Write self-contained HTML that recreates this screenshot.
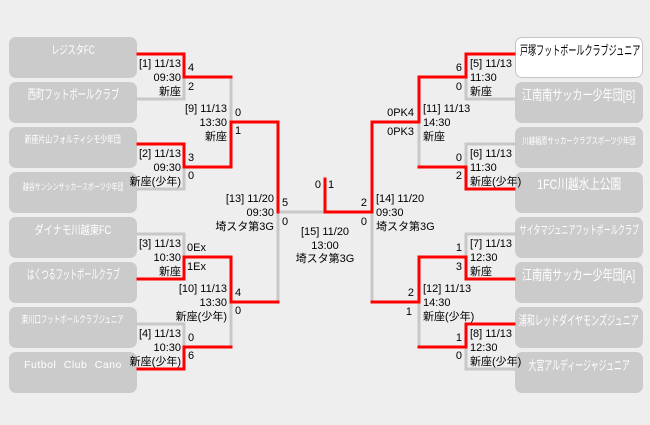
<!DOCTYPE html>
<html><head><meta charset="utf-8">
<style>
html,body{margin:0;padding:0;}
body{width:650px;height:425px;background:#eeeeee;position:relative;overflow:hidden;font-family:"Liberation Sans","Noto Sans CJK JP",sans-serif;}
.box{position:absolute;width:128px;height:41px;background:#cbcbcb;border-radius:7px;}
.nm{position:absolute;width:128px;height:16px;display:flex;justify-content:center;align-items:center;white-space:nowrap;}
.nm span{display:inline-block;color:#fff;line-height:1;white-space:nowrap;}
.t{position:absolute;font-size:11px;line-height:14px;color:#000;white-space:nowrap;}
.r{text-align:right;}
.s{position:absolute;font-size:11px;line-height:12px;color:#000;white-space:nowrap;}
svg{position:absolute;left:0;top:0;}
</style></head><body>

<!-- left boxes -->
<div class="box" style="left:9px;top:37px"></div>
<div class="box" style="left:9px;top:82px"></div>
<div class="box" style="left:9px;top:127px"></div>
<div class="box" style="left:9px;top:172px"></div>
<div class="box" style="left:9px;top:217px"></div>
<div class="box" style="left:9px;top:262px"></div>
<div class="box" style="left:9px;top:307px"></div>
<div class="box" style="left:9px;top:352px"></div>
<!-- right boxes -->
<div class="box" style="left:515px;top:37px;background:#fff;border:1px solid #c4c4c4;width:126px;height:39px;"></div>
<div class="box" style="left:515px;top:82px"></div>
<div class="box" style="left:515px;top:127px"></div>
<div class="box" style="left:515px;top:172px"></div>
<div class="box" style="left:515px;top:217px"></div>
<div class="box" style="left:515px;top:262px"></div>
<div class="box" style="left:515px;top:307px"></div>
<div class="box" style="left:515px;top:352px"></div>

<!-- left names -->
<div class="nm" style="left:9px;top:42px"><span style="font-size:12px;transform:scaleX(0.68)">レジスタFC</span></div>
<div class="nm" style="left:9px;top:86px"><span style="font-size:13px;transform:scaleX(0.64)">西町フットボールクラブ</span></div>
<div class="nm" style="left:9px;top:133px"><span style="font-size:10px;transform:scaleX(0.69)">新座片山フォルティシモ少年団</span></div>
<div class="nm" style="left:9px;top:179px"><span style="font-size:9px;transform:scaleX(0.66)">越谷サンシンサッカースポーツ少年団</span></div>
<div class="nm" style="left:9px;top:222px"><span style="font-size:12px;transform:scaleX(0.77)">ダイナモ川越東FC</span></div>
<div class="nm" style="left:9px;top:266px"><span style="font-size:13px;transform:scaleX(0.55)">はくつるフットボールクラブ</span></div>
<div class="nm" style="left:9px;top:313px"><span style="font-size:10px;transform:scaleX(0.64)">東川口フットボールクラブジュニア</span></div>
<div class="nm" style="left:9px;top:357px"><span style="font-size:10.5px;letter-spacing:0.5px;word-spacing:4px">Futbol Club Cano</span></div>

<!-- right names -->
<div style="position:absolute;left:520px;top:42px;height:14px;width:150px;"><span style="display:inline-block;font-size:13px;line-height:1;color:#000;transform:scaleX(0.62);transform-origin:0 50%;white-space:nowrap;">戸塚フットボールクラブジュニア</span></div>
<div class="nm" style="left:515px;top:87px"><span style="font-size:14px;transform:scaleX(0.72)">江南南サッカー少年団[B]</span></div>
<div class="nm" style="left:515px;top:133px"><span style="font-size:9px;transform:scaleX(0.70)">川越福原サッカークラブスポーツ少年団</span></div>
<div class="nm" style="left:515px;top:176px"><span style="font-size:14px;transform:scaleX(0.76)">1FC川越水上公園</span></div>
<div class="nm" style="left:515px;top:222px"><span style="font-size:12px;transform:scaleX(0.59)">サイタマジュニアフットボールクラブ</span></div>
<div class="nm" style="left:515px;top:267px"><span style="font-size:14px;transform:scaleX(0.72)">江南南サッカー少年団[A]</span></div>
<div class="nm" style="left:515px;top:312px"><span style="font-size:13px;transform:scaleX(0.62)">浦和レッドダイヤモンズジュニア</span></div>
<div class="nm" style="left:515px;top:357px"><span style="font-size:13px;transform:scaleX(0.61)">大宮アルディージャジュニア</span></div>

<svg width="650" height="425" viewBox="0 0 650 425">
<g fill="none" stroke="#c8c8c8" stroke-width="3" stroke-linejoin="miter" stroke-linecap="square">
<path d="M137,99 H184 V77"/>
<path d="M137,189 H184 V167"/>
<path d="M231,77 V122"/>
<path d="M137,234 H184 V257"/>
<path d="M137,324 H184 V347"/>
<path d="M231,347 V302"/>
<path d="M278,302 V212 H325"/>
<path d="M372,212 V302"/>
<path d="M515,99 H466 V77"/>
<path d="M419,122 V167"/>
<path d="M515,144 H466 V167"/>
<path d="M515,234 H466 V257"/>
<path d="M419,302 V347"/>
<path d="M515,369 H466 V347"/>
</g>
<g fill="none" stroke="#ff0000" stroke-width="3" stroke-linejoin="miter" stroke-linecap="square">
<path d="M138,54 H184 V77 H231"/>
<path d="M138,144 H184 V167 H231 V122 H278 V212"/>
<path d="M138,279 H184 V257 H231 V302 H278"/>
<path d="M138,369 H184 V347 H231"/>
<path d="M325,179 V212 H372 V122 H419 V77 H466 V54 H514"/>
<path d="M514,189 H466 V167 H419"/>
<path d="M514,279 H466 V257 H419 V302 H372"/>
<path d="M514,324 H466 V347 H419"/>
</g>
</svg>

<!-- left match info -->
<div class="t r" style="right:469px;top:57px">[1] 11/13<br>09:30<br>新座</div>
<div class="t r" style="right:469px;top:147px">[2] 11/13<br>09:30<br>新座(少年)</div>
<div class="t r" style="right:469px;top:237px">[3] 11/13<br>10:30<br>新座</div>
<div class="t r" style="right:469px;top:327px">[4] 11/13<br>10:30<br>新座(少年)</div>
<div class="t r" style="right:423px;top:102px">[9] 11/13<br>13:30<br>新座</div>
<div class="t r" style="right:423px;top:282px">[10] 11/13<br>13:30<br>新座(少年)</div>
<div class="t r" style="right:376px;top:192px">[13] 11/20<br>09:30<br>埼スタ第3G</div>
<div class="t" style="left:285px;width:80px;text-align:center;top:226px;line-height:13.5px">[15] 11/20<br>13:00<br>埼スタ第3G</div>
<!-- right match info -->
<div class="t" style="left:470px;top:57px">[5] 11/13<br>11:30<br>新座</div>
<div class="t" style="left:470px;top:147px">[6] 11/13<br>11:30<br>新座(少年)</div>
<div class="t" style="left:470px;top:237px">[7] 11/13<br>12:30<br>新座</div>
<div class="t" style="left:470px;top:327px">[8] 11/13<br>12:30<br>新座(少年)</div>
<div class="t" style="left:423px;top:102px">[11] 11/13<br>14:30<br>新座</div>
<div class="t" style="left:423px;top:282px">[12] 11/13<br>14:30<br>新座(少年)</div>
<div class="t" style="left:376px;top:192px">[14] 11/20<br>09:30<br>埼スタ第3G</div>

<!-- left scores -->
<div class="s" style="left:188px;top:62px">4</div>
<div class="s" style="left:188px;top:81px">2</div>
<div class="s" style="left:188px;top:152px">3</div>
<div class="s" style="left:188px;top:170px">0</div>
<div class="s" style="left:187px;top:242px">0Ex</div>
<div class="s" style="left:187px;top:261px">1Ex</div>
<div class="s" style="left:188px;top:332px">0</div>
<div class="s" style="left:188px;top:350px">6</div>
<div class="s" style="left:235px;top:107px">0</div>
<div class="s" style="left:235px;top:125px">1</div>
<div class="s" style="left:235px;top:287px">4</div>
<div class="s" style="left:235px;top:305px">0</div>
<div class="s" style="left:282px;top:197px">5</div>
<div class="s" style="left:282px;top:216px">0</div>
<!-- final -->
<div class="s r" style="right:329px;top:179px">0</div>
<div class="s" style="left:328px;top:179px">1</div>
<div class="s r" style="right:283px;top:197px">2</div>
<div class="s r" style="right:283px;top:216px">0</div>
<!-- right scores -->
<div class="s r" style="right:188px;top:62px">6</div>
<div class="s r" style="right:188px;top:81px">0</div>
<div class="s r" style="right:188px;top:152px">0</div>
<div class="s r" style="right:188px;top:170px">2</div>
<div class="s r" style="right:188px;top:242px">1</div>
<div class="s r" style="right:188px;top:261px">3</div>
<div class="s r" style="right:188px;top:332px">1</div>
<div class="s r" style="right:188px;top:350px">0</div>
<div class="s r" style="right:236px;top:107px">0PK4</div>
<div class="s r" style="right:236px;top:126px">0PK3</div>
<div class="s r" style="right:236px;top:287px">2</div>
<div class="s r" style="right:238px;top:306px">1</div>

</body></html>
